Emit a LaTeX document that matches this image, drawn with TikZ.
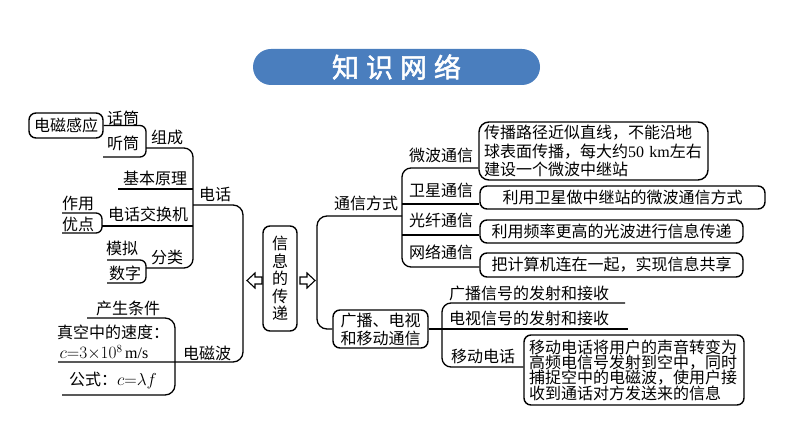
\documentclass[tikz,border=0pt]{standalone}
\usepackage{fontspec}
\setmainfont{Noto Sans CJK SC}
\newfontfamily\titlefont[FakeBold=2]{Noto Sans CJK SC}
\newfontfamily\latinfont{Liberation Serif}
\definecolor{titleblue}{RGB}{74,126,190}
\tikzset{
  lbl/.style={inner sep=0pt, font=\fontsize{16}{16}\selectfont},
  rbox/.style={draw, line width=1.4pt, rounded corners=7pt, inner sep=0pt, font=\fontsize{16}{16}\selectfont},
  ln/.style={line width=1.3pt},
  hollowarrow/.style={line width=1.1pt, fill=white, line join=miter}
}
\begin{document}
\begin{tikzpicture}[x=1pt,y=-1pt]
\useasboundingbox (0,0) rectangle (794,446);

% title
\node[fill=titleblue, rounded corners=18pt, minimum width=287pt, minimum height=36pt,
      inner sep=0pt, text=white, font=\titlefont\fontsize{27}{27}\selectfont]
  (title) at (396.5,67) {知\hspace{7pt}识\hspace{7pt}网\hspace{7pt}络};

% ---------- left part ----------
\node[rbox, minimum width=74pt, minimum height=25pt] (emi) at (66,125.5) {电磁感应};
\node[lbl] (huatong) at (123,118) {话筒};
\node[lbl] (tingtong) at (123,143) {听筒};
\node[lbl] (zucheng) at (167,137) {组成};
\node[lbl] (jiben) at (155,178) {基本原理};
\node[lbl] (jiaohuan) at (148,214) {电话交换机};
\node[lbl] (zuoyong) at (78,203) {作用};
\node[lbl] (youdian) at (78,224) {优点};
\node[lbl] (moni) at (122,248) {模拟};
\node[lbl] (shuzi) at (125,273) {数字};
\node[lbl] (fenlei) at (167,257) {分类};
\node[lbl] (dianhua) at (215,194) {电话};
\node[lbl] (chansheng) at (128,308) {产生条件};
\node[lbl] (zhenkong) at (113,332) {真空中的速度：};
\node[lbl] (sudu) at (104,353) {$c{=}3{\times}10^{8}$\,{\latinfont m/s}};
\node[lbl] (gongshi) at (113,380) {公式：$c{=}\lambda f$};
\node[lbl] (dcb) at (207,353) {电磁波};

\draw[ln, rounded corners=6pt] (emi.east) -- (146,125.5) -- (146,157) -- (103,157);
\draw[ln, rounded corners=9pt] (146,148) -- (193,148) -- (193,268) -- (146,268);
\draw[ln] (118,189) -- (193,189);
\draw[ln, rounded corners=6pt] (62,213) -- (102,213) -- (102,233) -- (62,233);
\draw[ln] (102,226) -- (193,226);
\draw[ln, rounded corners=6pt] (107,260) -- (146,260) -- (146,283) -- (107,283);
\draw[ln, rounded corners=10pt] (193,205) -- (243,205) -- (243,362) -- (58,362);
\draw[ln, rounded corners=10pt] (87,318) -- (175,318) -- (175,395) -- (62,395);

% ---------- centre ----------
\node[rbox, minimum width=34pt, minimum height=105pt, align=center,
      font=\fontsize{16}{17.6}\selectfont] (centre) at (280,278.5) {信\\息\\的\\传\\递};
\draw[hollowarrow] (247,280.5) -- (255,273) -- (255,277) -- (262,277) -- (262,284) -- (255,284) -- (255,288) -- cycle;
\draw[hollowarrow] (315,280.5) -- (307,273) -- (307,277) -- (300,277) -- (300,284) -- (307,284) -- (307,288) -- cycle;

% ---------- right part ----------
\node[lbl] (tongxin) at (366,203) {通信方式};
\node[lbl] (weibo) at (441,155) {微波通信};
\node[lbl] (weixing) at (441,190) {卫星通信};
\node[lbl] (guangxian) at (441,220) {光纤通信};
\node[lbl] (wangluo) at (441,252) {网络通信};

\node[rbox, rounded corners=10pt, minimum width=229pt, minimum height=58pt, inner xsep=5pt,
      text width=219pt, align=left, font=\fontsize{16}{18.5}\selectfont]
  (box1) at (593.5,151) {传播路径近似直线，不能沿地\\球表面传播，每大约{\latinfont 50 km}左右\\建设一个微波中继站};
\node[rbox, minimum width=285pt, minimum height=23pt] (box2) at (622.5,197.5) {利用卫星做中继站的微波通信方式};
\node[rbox, minimum width=263pt, minimum height=23pt] (box3) at (611.5,231.5) {利用频率更高的光波进行信息传递};
\node[rbox, minimum width=263pt, minimum height=24pt] (box4) at (611.5,265) {把计算机连在一起，实现信息共享};

\node[rbox, minimum width=95pt, minimum height=38pt, align=center,
      font=\fontsize{16}{18}\selectfont] (gbbox) at (380.5,329) {广播、电视\\和移动通信};
\node[lbl] (gb1) at (529,293) {广播信号的发射和接收};
\node[lbl] (gb2) at (529,318) {电视信号的发射和接收};
\node[lbl] (yd) at (483,356) {移动电话};
\node[rbox, minimum width=220pt, minimum height=70pt, inner xsep=5pt,
      text width=210pt, align=left, font=\fontsize{16}{15.4}\selectfont]
  (box5) at (634,370) {移动电话将用户的声音转变为\\高频电信号发射到空中，同时\\捕捉空中的电磁波，使用户接\\收到通话对方发送来的信息};

\draw[ln, rounded corners=10pt] (402,216) -- (317,216) -- (317,329) -- (gbbox.west);
\draw[ln, rounded corners=9pt] (box1.west |- 0,168) -- (402,168) -- (402,267) -- (box4.west |- 0,267);
\draw[ln] (402,204) -- (box2.west |- 0,204);
\draw[ln] (402,235) -- (box3.west |- 0,235);
\draw[ln, rounded corners=9pt] (625,303) -- (442,303) -- (442,367) -- (box5.west |- 0,367);
\draw[ln] (gbbox.east) -- (628,329);
\end{tikzpicture}
\end{document}
